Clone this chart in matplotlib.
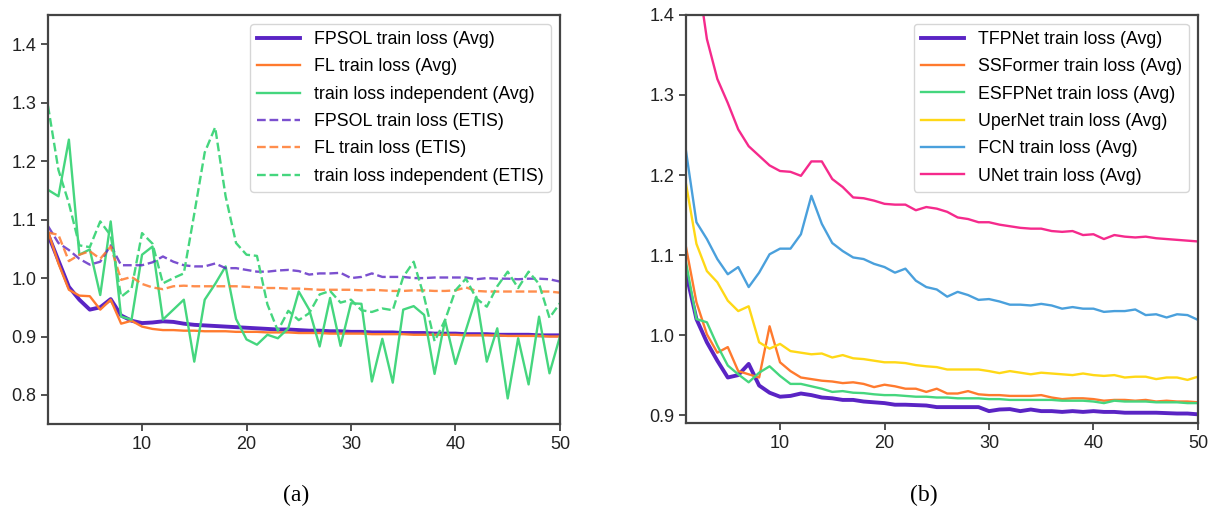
import numpy as np
import matplotlib.pyplot as plt

plt.rcParams['font.family'] = ['Liberation Sans', 'DejaVu Sans']

epochs = np.arange(1, 51)

# panel (a)
fpsol_avg = [1.075, 1.03, 0.985, 0.963, 0.946, 0.95, 0.964, 0.936, 0.927, 0.923,
             0.924, 0.926, 0.925, 0.922, 0.920, 0.919, 0.918, 0.917, 0.916, 0.915,
             0.914, 0.913, 0.912, 0.912, 0.911, 0.910, 0.910, 0.909, 0.909, 0.908,
             0.908, 0.907, 0.907, 0.907, 0.906, 0.906, 0.906, 0.905, 0.905, 0.905,
             0.904, 0.904, 0.904, 0.903, 0.903, 0.903, 0.903, 0.902, 0.902, 0.902]
fl_avg = [1.08, 1.025, 0.98, 0.97, 0.969, 0.946, 0.963, 0.922, 0.927, 0.917,
          0.913, 0.911, 0.911, 0.910, 0.910, 0.909, 0.909, 0.909, 0.908, 0.908,
          0.908, 0.907, 0.907, 0.907, 0.906, 0.906, 0.906, 0.905, 0.905, 0.905,
          0.905, 0.904, 0.904, 0.904, 0.904, 0.903, 0.903, 0.903, 0.903, 0.903,
          0.902, 0.902, 0.902, 0.902, 0.901, 0.901, 0.901, 0.901, 0.900, 0.900]
indep_avg = [1.151, 1.14, 1.237, 1.04, 1.049, 0.971, 1.097, 0.934, 0.929, 1.04,
             1.054, 0.929, 0.946, 0.963, 0.857, 0.963, 0.99, 1.02, 0.93, 0.895,
             0.886, 0.903, 0.897, 0.914, 0.977, 0.946, 0.883, 0.966, 0.884, 0.957,
             0.956, 0.823, 0.896, 0.821, 0.946, 0.952, 0.937, 0.836, 0.928, 0.853,
             0.911, 0.968, 0.857, 0.914, 0.794, 0.897, 0.818, 0.934, 0.837, 0.9]
fpsol_etis = [1.089, 1.06, 1.048, 1.033, 1.023, 1.028, 1.056, 1.022, 1.022, 1.022,
              1.027, 1.037, 1.028, 1.022, 1.02, 1.02, 1.025, 1.017, 1.017, 1.014,
              1.011, 1.011, 1.013, 1.014, 1.012, 1.006, 1.008, 1.008, 1.009, 1.0,
              1.002, 1.008, 1.002, 1.002, 1.002, 1.0, 1.0, 1.001, 1.001, 1.001,
              1.001, 0.998, 1.0, 0.999, 0.999, 0.998, 0.999, 0.999, 0.998, 0.994]
fl_etis = [1.078, 1.074, 1.029, 1.04, 1.046, 1.033, 1.054, 0.997, 1.002, 0.99,
           0.984, 0.981, 0.986, 0.987, 0.986, 0.986, 0.986, 0.986, 0.986, 0.985,
           0.984, 0.983, 0.983, 0.982, 0.982, 0.981, 0.98, 0.98, 0.98, 0.98,
           0.979, 0.98, 0.979, 0.978, 0.978, 0.979, 0.979, 0.978, 0.978, 0.979,
           0.984, 0.978, 0.977, 0.977, 0.977, 0.977, 0.977, 0.977, 0.977, 0.975]
indep_etis = [1.295, 1.185, 1.128, 1.056, 1.053, 1.097, 1.073, 0.968, 0.982, 1.077,
              1.059, 0.991, 1.0, 1.008, 1.11, 1.215, 1.258, 1.14, 1.06, 1.04,
              1.038, 0.955, 0.91, 0.944, 0.928, 0.94, 0.972, 0.978, 0.958, 0.963,
              0.945, 0.942, 0.948, 0.945, 1.002, 1.028, 0.968, 0.892, 0.928, 0.979,
              0.999, 0.965, 0.951, 0.986, 1.011, 0.983, 1.011, 0.99, 0.932, 0.957]

# panel (b)
tfpnet = [1.078, 1.02, 0.991, 0.968, 0.947, 0.95, 0.964, 0.937, 0.928, 0.923,
          0.924, 0.927, 0.925, 0.922, 0.921, 0.919, 0.919, 0.917, 0.916, 0.915,
          0.913, 0.913, 0.9125, 0.912, 0.91, 0.91, 0.91, 0.91, 0.91, 0.905,
          0.907, 0.9075, 0.905, 0.907, 0.905, 0.905, 0.904, 0.905, 0.904, 0.905,
          0.904, 0.904, 0.903, 0.903, 0.903, 0.903, 0.9025, 0.902, 0.902, 0.901]
ssformer = [1.11, 1.041, 1.001, 0.978, 0.985, 0.955, 0.951, 0.947, 1.011, 0.966,
            0.955, 0.947, 0.945, 0.943, 0.942, 0.94, 0.941, 0.939, 0.935, 0.938,
            0.936, 0.933, 0.933, 0.929, 0.933, 0.927, 0.927, 0.93, 0.926, 0.925,
            0.925, 0.924, 0.924, 0.924, 0.925, 0.922, 0.92, 0.921, 0.921, 0.92,
            0.918, 0.919, 0.919, 0.918, 0.919, 0.917, 0.918, 0.917, 0.917, 0.916]
esfpnet = [1.091, 1.02, 1.016, 0.987, 0.962, 0.951, 0.941, 0.953, 0.961, 0.949,
           0.939, 0.939, 0.936, 0.933, 0.929, 0.93, 0.928, 0.9275, 0.926, 0.925,
           0.925, 0.924, 0.923, 0.923, 0.922, 0.922, 0.921, 0.921, 0.921, 0.92,
           0.92, 0.919, 0.919, 0.919, 0.919, 0.919, 0.918, 0.918, 0.918, 0.917,
           0.915, 0.918, 0.917, 0.917, 0.917, 0.916, 0.916, 0.916, 0.915, 0.915]
upernet = [1.189, 1.114, 1.08, 1.066, 1.043, 1.03, 1.036, 0.991, 0.983, 0.989,
           0.98, 0.978, 0.976, 0.977, 0.972, 0.975, 0.971, 0.97, 0.968, 0.966,
           0.966, 0.965, 0.9625, 0.961, 0.96, 0.957, 0.957, 0.957, 0.957, 0.955,
           0.9525, 0.955, 0.953, 0.951, 0.953, 0.952, 0.951, 0.95, 0.952, 0.95,
           0.949, 0.95, 0.947, 0.948, 0.948, 0.945, 0.947, 0.947, 0.944, 0.948]
fcn = [1.23, 1.141, 1.12, 1.095, 1.076, 1.085, 1.06, 1.078, 1.101, 1.108,
       1.108, 1.126, 1.174, 1.139, 1.115, 1.105, 1.097, 1.095, 1.089, 1.085,
       1.078, 1.083, 1.068, 1.06, 1.057, 1.048, 1.054, 1.05, 1.044, 1.045,
       1.042, 1.038, 1.038, 1.037, 1.039, 1.037, 1.033, 1.035, 1.033, 1.033,
       1.029, 1.03, 1.03, 1.032, 1.025, 1.026, 1.022, 1.026, 1.025, 1.019]
unet = [1.55, 1.46, 1.37, 1.32, 1.29, 1.257, 1.236, 1.224, 1.212, 1.205,
        1.204, 1.199, 1.217, 1.217, 1.195, 1.185, 1.172, 1.171, 1.168, 1.164,
        1.163, 1.163, 1.156, 1.16, 1.158, 1.154, 1.147, 1.145, 1.141, 1.141,
        1.138, 1.136, 1.134, 1.133, 1.133, 1.13, 1.129, 1.13, 1.125, 1.126,
        1.12, 1.125, 1.123, 1.122, 1.123, 1.121, 1.12, 1.119, 1.118, 1.117]

PURPLE = '#5a24c4'
ORANGE = '#ff7a2e'
GREEN = '#45d67e'
YELLOW = '#ffd816'
BLUE = '#4aa0dc'
PINK = '#f52a8c'

fig = plt.figure(figsize=(12.12, 5.16), dpi=100)
ax1 = fig.add_axes([0.0396, 0.178, 0.4224, 0.7926])
ax2 = fig.add_axes([0.566, 0.180, 0.4224, 0.791])

ax1.plot(epochs, fpsol_avg, color=PURPLE, lw=2.8, label='FPSOL train loss (Avg)')
ax1.plot(epochs, fl_avg, color=ORANGE, lw=1.7, label='FL train loss (Avg)')
ax1.plot(epochs, indep_avg, color=GREEN, lw=1.7, label='train loss independent (Avg)')
ax1.plot(epochs, fpsol_etis, color=PURPLE, lw=1.7, ls='--', alpha=0.8, label='FPSOL train loss (ETIS)')
ax1.plot(epochs, fl_etis, color=ORANGE, lw=1.7, ls='--', alpha=0.85, label='FL train loss (ETIS)')
ax1.plot(epochs, indep_etis, color=GREEN, lw=1.7, ls='--', label='train loss independent (ETIS)')
ax1.set_ylim(0.75, 1.45)
ax1.set_yticks([0.8, 0.9, 1.0, 1.1, 1.2, 1.3, 1.4])

ax2.plot(epochs, tfpnet, color=PURPLE, lw=2.8, label='TFPNet train loss (Avg)')
ax2.plot(epochs, ssformer, color=ORANGE, lw=1.7, label='SSFormer train loss (Avg)')
ax2.plot(epochs, esfpnet, color=GREEN, lw=1.7, label='ESFPNet train loss (Avg)')
ax2.plot(epochs, upernet, color=YELLOW, lw=1.7, label='UperNet train loss (Avg)')
ax2.plot(epochs, fcn, color=BLUE, lw=1.7, label='FCN train loss (Avg)')
ax2.plot(epochs, unet, color=PINK, lw=1.7, label='UNet train loss (Avg)')
ax2.set_ylim(0.89, 1.4)
ax2.set_yticks([0.9, 1.0, 1.1, 1.2, 1.3, 1.4])

for ax in (ax1, ax2):
    ax.set_xlim(1, 50)
    ax.set_xticks([10, 20, 30, 40, 50])
    ax.tick_params(labelsize=13, length=5, width=1.2, color='#333333', labelcolor='#222222')
    for sp in ax.spines.values():
        sp.set_color('#444444')
        sp.set_linewidth(1.6)
    ax.legend(loc='upper right', fontsize=12.8, handlelength=2.4, labelspacing=0.58,
              framealpha=0.8, edgecolor='#cccccc')

fig.text(0.244, 0.04, '(a)', family=['Liberation Serif'], fontsize=17, ha='center', va='center')
fig.text(0.762, 0.04, '(b)', family=['Liberation Serif'], fontsize=17, ha='center', va='center')

fig.savefig('out.png', dpi=100)
